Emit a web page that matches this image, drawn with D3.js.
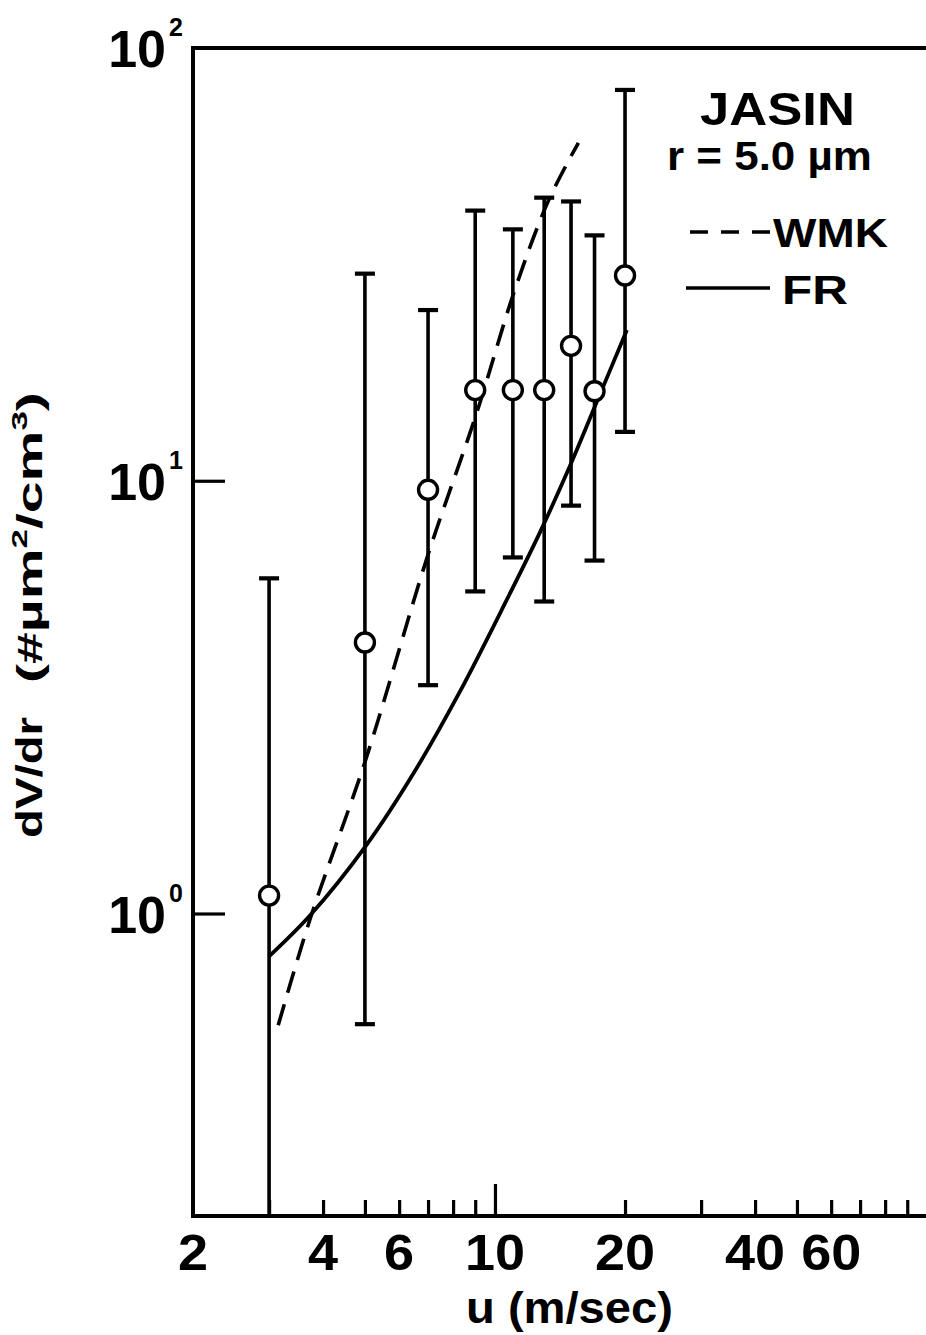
<!DOCTYPE html>
<html><head><meta charset="utf-8">
<script src="https://cdn.jsdelivr.net/npm/d3@7"></script>
<style>html,body{margin:0;padding:0;background:#fff} svg{display:block}</style>
</head><body>
<svg id="chart" width="926" height="1335"></svg>
<script>
// ---- data ----
const windSpeed  = [3, 5, 7, 9, 11, 13, 15, 17, 20];            // u (m/sec)
const dvdrMean   = [1.10, 4.23, 9.53, 16.2, 16.2, 16.2, 20.5, 16.1, 29.8];
const dvdrUpper  = [5.95, 30.1, 24.8, 42.1, 38.1, 45.1, 44.2, 36.9, 80.0];
const dvdrLower  = [0.2, 0.555, 3.37, 5.55, 6.65, 5.26, 8.76, 6.54, 12.97];
const wmkU = [3.15, 3.73, 5.03, 7.0, 9.04, 11.1, 13.3, 15.6];
const wmkV = [0.552, 0.969, 2.28, 6.75, 14.2, 27.5, 44.4, 60.4];
const frU  = [3.0, 3.73, 5.03, 6.5, 8.30, 10.66, 12.7, 14.9, 17.2, 20.2];
const frV  = [0.796, 0.989, 1.435, 2.12, 3.26, 5.32, 7.59, 10.8, 15.2, 22.3];
const xTickLabels = [2, 4, 6, 10, 20, 40, 60];
const xMinorTicks = [3, 4, 5, 6, 7, 8, 9, 20, 30, 40, 50, 60, 70, 80, 90];
const xMajorTicks = [10];
const yTickValues = [100, 10, 1];
const yTickExponents = ["2", "1", "0"];
const legendTitle = "JASIN";
const legendRadius = "r = 5.0 \u00b5m";
const seriesNames = ["WMK", "FR"];

// ---- layout ----
const FONT = "'Liberation Sans', Arial, Helvetica, sans-serif";
const svg = d3.select("#chart");
const x = d3.scaleLog().domain([2, 100]).range([193, 927]);
const y = d3.scaleLog().domain([0.2, 100]).range([1216, 48]);
const X0 = x.range()[0], Y0 = y.range()[0], Y1 = y.range()[1];

function placeText(px, py, rot, targetW, build) {
  const g = svg.append("g").attr("transform", `translate(${px},${py}) rotate(${rot})`);
  const inner = g.append("g");
  const t = inner.append("text").attr("font-family", FONT).attr("font-weight", "bold").attr("fill", "#000");
  build(t);
  const bb = t.node().getBBox();
  const s = targetW / bb.width;
  inner.attr("transform", `scale(${s},1) translate(${-bb.x},0)`);
  return g;
}

// frame
const frame = svg.append("g").attr("stroke", "#000").attr("stroke-width", 4).attr("fill", "none").attr("stroke-linecap", "square");
frame.append("line").attr("x1", X0).attr("x2", X0).attr("y1", Y1).attr("y2", Y0);
frame.append("line").attr("x1", X0).attr("x2", 930).attr("y1", Y1).attr("y2", Y1);
frame.append("line").attr("x1", X0).attr("x2", 930).attr("y1", Y0).attr("y2", Y0);

// x ticks (inward)
const xAxisMinor = d3.axisTop(x).tickValues(xMinorTicks).tickSize(16).tickFormat("");
const xAxisMajor = d3.axisTop(x).tickValues(xMajorTicks).tickSize(32).tickFormat("");
[xAxisMinor, xAxisMajor].forEach(ax => {
  const g = svg.append("g").attr("transform", `translate(0,${Y0})`).call(ax);
  g.select(".domain").remove();
  g.selectAll(".tick line").attr("stroke", "#000").attr("stroke-width", 3.2);
});
// x tick labels
svg.append("g").selectAll("text").data(xTickLabels).join("text")
  .attr("transform", d => `translate(${x(d)},1270) scale(1.08,1)`)
  .attr("text-anchor", "middle").attr("font-family", FONT).attr("font-weight", "bold")
  .attr("font-size", 50).text(d => d);

// y ticks (inward)
const yAxis = d3.axisRight(y).tickValues(yTickValues.slice(1)).tickSize(32).tickFormat("");
const gy = svg.append("g").attr("transform", `translate(${X0},0)`).call(yAxis);
gy.select(".domain").remove();
gy.selectAll(".tick line").attr("stroke", "#000").attr("stroke-width", 3.2);
// y tick labels 10^n
yTickValues.forEach((v, i) => {
  const yy = y(v);
  svg.append("text").attr("x", 166).attr("y", yy + 19).attr("text-anchor", "end")
    .attr("font-family", FONT).attr("font-weight", "bold").attr("font-size", 52).text("10");
  svg.append("text").attr("x", 169).attr("y", yy - 12)
    .attr("font-family", FONT).attr("font-weight", "bold").attr("font-size", 25).text(yTickExponents[i]);
});

// axis titles
placeText(466, 1323, 0, 207, t => t.attr("font-size", 44).text("u (m/sec)"));
placeText(42, 838, -90, 121, t => t.attr("font-size", 36).text("dV/dr"));
placeText(42, 683, -90, 291, t => {
  t.attr("font-size", 36);
  t.append("tspan").text("(#\u00b5m");
  t.append("tspan").attr("font-size", 22).attr("dy", -15).text("2");
  t.append("tspan").attr("dy", 15).text("/cm");
  t.append("tspan").attr("font-size", 22).attr("dy", -15).text("3");
  t.append("tspan").attr("dy", 15).text(")");
});

// curves
const line = d3.line().x(d => x(d[0])).y(d => y(d[1])).curve(d3.curveCatmullRom);
svg.append("path").datum(wmkU.map((u, i) => [u, wmkV[i]]))
  .attr("d", line).attr("fill", "none").attr("stroke", "#000").attr("stroke-width", 3.6)
  .attr("stroke-dasharray", "22,12");
svg.append("path").datum(frU.map((u, i) => [u, frV[i]]))
  .attr("d", line).attr("fill", "none").attr("stroke", "#000").attr("stroke-width", 3.8);

// error bars
const bars = svg.append("g").attr("stroke", "#000").attr("stroke-width", 3.6);
windSpeed.forEach((u, i) => {
  const cx = x(u);
  bars.append("line").attr("x1", cx).attr("x2", cx).attr("y1", y(dvdrUpper[i])).attr("y2", y(dvdrLower[i]));
  bars.append("line").attr("x1", cx - 10).attr("x2", cx + 10).attr("y1", y(dvdrUpper[i])).attr("y2", y(dvdrUpper[i])).attr("stroke-width", 4.2);
  if (dvdrLower[i] > y.domain()[0])
    bars.append("line").attr("x1", cx - 10).attr("x2", cx + 10).attr("y1", y(dvdrLower[i])).attr("y2", y(dvdrLower[i])).attr("stroke-width", 4.2);
});
svg.append("g").selectAll("circle").data(windSpeed).join("circle")
  .attr("cx", d => x(d)).attr("cy", (d, i) => y(dvdrMean[i])).attr("r", 9.5)
  .attr("fill", "#fff").attr("stroke", "#000").attr("stroke-width", 3.4);

// legend
placeText(700, 125, 0, 155, t => t.attr("font-size", 46).text(legendTitle));
placeText(667, 170, 0, 205, t => t.attr("font-size", 40).text(legendRadius));
svg.append("line").attr("x1", 690).attr("x2", 770).attr("y1", 232).attr("y2", 232)
  .attr("stroke", "#000").attr("stroke-width", 3.6).attr("stroke-dasharray", "18,13");
placeText(773, 247, 0, 115, t => t.attr("font-size", 40).text(seriesNames[0]));
svg.append("line").attr("x1", 686).attr("x2", 770).attr("y1", 288).attr("y2", 288)
  .attr("stroke", "#000").attr("stroke-width", 3.6);
placeText(782, 304, 0, 66, t => t.attr("font-size", 40).text(seriesNames[1]));
</script>
</body></html>
